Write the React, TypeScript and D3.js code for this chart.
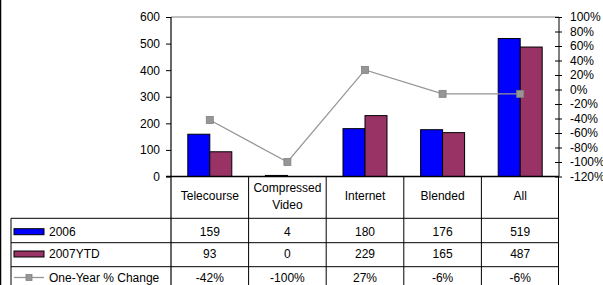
import { useRef, useEffect } from "react";
import * as d3 from "d3";

const categories = ["Telecourse", "Compressed\nVideo", "Internet", "Blended", "All"];
const seriesNames = ["2006", "2007YTD"];
const values2006 = [159, 4, 180, 176, 519];
const values2007 = [93, 0, 229, 165, 487];
const pctChange = [-42, -100, 27, -6, -6];
const pctLabels = ["-42%", "-100%", "27%", "-6%", "-6%"];
const leftTicks = [0, 100, 200, 300, 400, 500, 600];
const rightTicks = [-120, -100, -80, -60, -40, -20, 0, 20, 40, 60, 80, 100];

const W = 603;
const H = 285;
const FONT = "'Liberation Sans', Arial, sans-serif";

const App = () => {
	const svgRef = useRef<SVGSVGElement>(null);

	useEffect(() => {
		const svg = d3.select(svgRef.current);
		svg.selectAll("*").remove();

		const left = 171, right = 559, top = 17, bottom = 176.5;
		const tableLeft = 11;
		const rowLines = [218.3, 242.7, 266.7, 291];
		const rowCenters = [231.7, 254, 277.5];

		const x = d3.scaleBand<string>().domain(categories).range([left, right]);
		const xs = d3
			.scaleBand<string>()
			.domain(seriesNames)
			.range([0, x.bandwidth()])
			.paddingOuter(0.764);
		const y = d3.scaleLinear().domain([0, 600]).range([bottom, top]);
		const y2 = d3.scaleLinear().domain([-120, 100]).range([bottom, top]);

		const g = svg.append("g").style("font-family", FONT).style("font-size", "12px");

		// chart area border (left edge only visible)
		g.append("line").attr("x1", 0.5).attr("x2", 0.5).attr("y1", 0).attr("y2", H)
			.attr("stroke", "#000").attr("stroke-width", 1.5);

		// plot top border
		g.append("line").attr("x1", left).attr("x2", right).attr("y1", top).attr("y2", top)
			.attr("stroke", "#808080").attr("stroke-width", 1);

		// bars
		const series = [
			{ name: "2006", values: values2006, color: "#0000ff" },
			{ name: "2007YTD", values: values2007, color: "#993366" },
		];
		series.forEach((s) => {
			const pts = s.values.map((v, i) => ({ v, c: categories[i] })).filter((d) => d.v > 0);
			g.append("g")
				.selectAll("rect")
				.data(pts)
				.enter()
				.append("rect")
				.attr("x", (d) => (x(d.c) as number) + (xs(s.name) as number))
				.attr("width", xs.bandwidth())
				.attr("y", (d) => y(d.v))
				.attr("height", (d) => bottom - y(d.v))
				.attr("fill", s.color)
				.attr("stroke", "#000")
				.attr("stroke-width", 1);
		});

		// line series
		const cx = (i: number) => (x(categories[i]) as number) + x.bandwidth() / 2;
		const line = d3
			.line<number>()
			.x((d, i) => cx(i))
			.y((d) => y2(d));
		g.append("path")
			.datum(pctChange)
			.attr("d", line)
			.attr("fill", "none")
			.attr("stroke", "#969696")
			.attr("stroke-width", 1.3);
		g.append("g")
			.selectAll("rect")
			.data(pctChange)
			.enter()
			.append("rect")
			.attr("x", (d, i) => cx(i) - 3.5)
			.attr("y", (d) => y2(d) - 3.5)
			.attr("width", 7)
			.attr("height", 7)
			.attr("fill", "#969696")
			.attr("stroke", "#808080")
			.attr("stroke-width", 0.8);

		// left axis
		const ya = g
			.append("g")
			.attr("transform", `translate(${left},0)`)
			.call(d3.axisLeft(y).tickValues(leftTicks).tickSize(5).tickPadding(6));
		ya.select(".domain").attr("stroke", "#000").attr("stroke-width", 1.2).attr("d", `M0,${top}V${H}`);
		ya.selectAll(".tick line").attr("stroke", "#000");
		ya.selectAll(".tick text")
			.style("font-family", FONT)
			.style("font-size", "12px")
			.attr("fill", "#000");

		// right axis
		const ra = g
			.append("g")
			.attr("transform", `translate(${right},0)`)
			.call(
				d3
					.axisRight(y2)
					.tickValues(rightTicks)
					.tickSize(3)
					.tickPadding(8)
					.tickFormat((d) => `${d}%`)
			);
		ra.select(".domain").attr("stroke", "#000").attr("stroke-width", 1).attr("d", `M0,${top}V${bottom}`);
		ra.selectAll(".tick line").attr("stroke", "#000").attr("x1", -4).attr("x2", 3);
		ra.selectAll(".tick text")
			.style("font-family", FONT)
			.style("font-size", "12px")
			.attr("fill", "#000");

		// baseline
		g.append("line").attr("x1", left - 5).attr("x2", right).attr("y1", bottom).attr("y2", bottom)
			.attr("stroke", "#000").attr("stroke-width", 1.5);

		// data table grid
		const grid = g.append("g").attr("stroke", "#000").attr("stroke-width", 1);
		categories.forEach((c, i) => {
			if (i === 0) return;
			const xv = x(c) as number;
			grid.append("line").attr("x1", xv).attr("x2", xv).attr("y1", bottom).attr("y2", H);
		});
		grid.append("line").attr("x1", right - 0.5).attr("x2", right - 0.5).attr("y1", bottom).attr("y2", H);
		grid.append("line").attr("x1", tableLeft).attr("x2", tableLeft).attr("y1", rowLines[0]).attr("y2", H);
		rowLines.forEach((ry) => {
			grid.append("line").attr("x1", tableLeft).attr("x2", right).attr("y1", ry).attr("y2", ry);
		});

		// header labels
		categories.forEach((c, i) => {
			const parts = c.split("\n");
			const t = g.append("text").attr("text-anchor", "middle").attr("fill", "#000");
			if (parts.length === 1) {
				t.append("tspan").attr("x", cx(i)).attr("y", 196).attr("dominant-baseline", "central").text(parts[0]);
			} else {
				parts.forEach((p, j) => {
					t.append("tspan").attr("x", cx(i)).attr("y", 188 + j * 17).attr("dominant-baseline", "central").text(p);
				});
			}
		});

		// table rows
		const rows = [
			{ label: "2006", cells: values2006.map(String) },
			{ label: "2007YTD", cells: values2007.map(String) },
			{ label: "One-Year % Change", cells: pctLabels },
		];
		rows.forEach((r, ri) => {
			r.cells.forEach((v, i) => {
				g.append("text")
					.attr("x", cx(i))
					.attr("y", rowCenters[ri])
					.attr("text-anchor", "middle")
					.attr("dominant-baseline", "central")
					.attr("fill", "#000")
					.text(v);
			});
			g.append("text")
				.attr("x", 49)
				.attr("y", rowCenters[ri])
				.attr("dominant-baseline", "central")
				.attr("fill", "#000")
				.text(r.label);
		});

		// legend keys
		series.forEach((s, i) => {
			g.append("rect")
				.attr("x", 14)
				.attr("y", rowCenters[i] - 3)
				.attr("width", 30)
				.attr("height", 6)
				.attr("fill", s.color)
				.attr("stroke", "#000")
				.attr("stroke-width", 1);
		});
		g.append("line").attr("x1", 14).attr("x2", 44).attr("y1", rowCenters[2]).attr("y2", rowCenters[2])
			.attr("stroke", "#969696").attr("stroke-width", 1.3);
		g.append("rect").attr("x", 26).attr("y", rowCenters[2] - 3).attr("width", 6).attr("height", 6)
			.attr("fill", "#969696").attr("stroke", "#808080").attr("stroke-width", 0.8);
	}, []);

	return (
		<svg
			ref={svgRef}
			width={W}
			height={H}
			style={{ position: "absolute", left: 0, top: 0, background: "#fff" }}
		></svg>
	);
};

export default App;
